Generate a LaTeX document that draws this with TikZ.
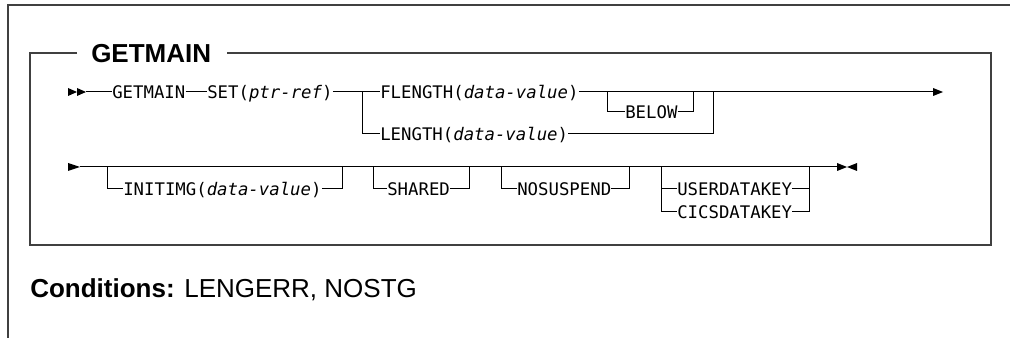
\documentclass[tikz,border=0pt]{standalone}
\usepackage{fontspec}
\setmainfont{Liberation Sans}
\newfontfamily\synmono{DejaVu Sans Mono}
\begin{document}
\begin{tikzpicture}[x=0.75pt,y=-0.75pt,
  syn/.style={font=\synmono\fontsize{13pt}{13pt}\selectfont, inner sep=0pt, text height=9.5pt, text depth=0pt, anchor=west},
  ttl/.style={font=\fontsize{19.5pt}{19.5pt}\selectfont\bfseries, inner sep=0pt, text height=14pt, text depth=0pt, anchor=west},
  cond/.style={font=\fontsize{19.5pt}{19.5pt}\selectfont, inner sep=0pt, text height=14pt, text depth=0pt, anchor=west},
  rail/.style={line width=0.75pt},
  frame/.style={line width=1.1pt, draw=black!75},
  tip/.style={fill=black}]
\useasboundingbox (0,0) rectangle (1010,338);
% outer frame
\coordinate (otr) at (1010,5);
\coordinate (otl) at (8,5);
\coordinate (obl) at (8,338);
\draw[frame] (otr) -- (otl) -- (obl);
% inner box with title
\node[ttl] (title) at (91,53) {GETMAIN};
\coordinate (itl) at (30,53);
\coordinate (ibl) at (30,245);
\coordinate (ibr) at (991,245);
\coordinate (itr) at (991,53);
\draw[frame] ([xshift=-14pt*0.75/0.75]title.west) ++(-4,0) coordinate (tl1) (77,53) -- (itl) -- (ibl) -- (ibr) -- (itr) -- (227,53);
% ---------- row 1 ----------
\fill[tip] (68,88) -- (77,92) -- (68,96) -- cycle;
\fill[tip] (77,88) -- (86,92) -- (77,96) -- cycle;
\coordinate (r1a) at (86,92);
\node[syn] (getmain) at (112,92) {GETMAIN};
\node[syn] (set) at (207,92) {SET(\textit{ptr-ref})};
\node[syn] (flen) at (380,92) {FLENGTH(\textit{data-value})};
\node[syn] (len) at (380,134) {LENGTH(\textit{data-value})};
\node[syn] (below) at (625,112) {BELOW};
\coordinate (br1) at (362,92);
\coordinate (bl1) at (607,92);
\coordinate (bl2) at (693,92);
\coordinate (br2) at (713,92);
\coordinate (r1e) at (933,92);
\draw[rail] (r1a) -- (getmain.west);
\draw[rail] (getmain.east) -- (set.west);
\draw[rail] (set.east) -- (flen.west);
\draw[rail] (br1) |- (len.west);
\draw[rail] (flen.east) -- (r1e);
\draw[rail] (bl1) |- (below.west);
\draw[rail] (below.east) -| (bl2);
\draw[rail] (len.east) -| (br2);
\fill[tip] (933,88) -- (943,92) -- (933,96) -- cycle;
% ---------- row 2 ----------
\fill[tip] (68,163) -- (80,167) -- (68,171) -- cycle;
\coordinate (r2a) at (80,167);
\coordinate (r2e) at (837,167);
\draw[rail] (r2a) -- (r2e);
\fill[tip] (837,163) -- (847,167) -- (837,171) -- cycle;
\fill[tip] (857,163) -- (847,167) -- (857,171) -- cycle;
\node[syn] (initimg) at (123,189) {INITIMG(\textit{data-value})};
\node[syn] (shared) at (387,189) {SHARED};
\node[syn] (nosusp) at (517,189) {NOSUSPEND};
\node[syn] (user) at (677,189) {USERDATAKEY};
\node[syn] (cics) at (677,212) {CICSDATAKEY};
\coordinate (a1) at (107,167); \coordinate (a2) at (342,167);
\coordinate (b1) at (373,167); \coordinate (b2) at (469,167);
\coordinate (c1) at (501,167); \coordinate (c2) at (629,167);
\coordinate (d1) at (661,167); \coordinate (d2) at (809,167);
\draw[rail] (a1) |- (initimg.west);
\draw[rail] (initimg.east) -| (a2);
\draw[rail] (b1) |- (shared.west);
\draw[rail] (shared.east) -| (b2);
\draw[rail] (c1) |- (nosusp.west);
\draw[rail] (nosusp.east) -| (c2);
\draw[rail] (d1) |- (cics.west);
\draw[rail] (d1 |- user.west) -- (user.west);
\draw[rail] (cics.east) -| (d2);
\draw[rail] (user.east) -- (d2 |- user.east);
% ---------- conditions ----------
\node[cond] (conds) at (30,288) {\textbf{Conditions:} LENGERR, NOSTG};
\end{tikzpicture}
\end{document}
